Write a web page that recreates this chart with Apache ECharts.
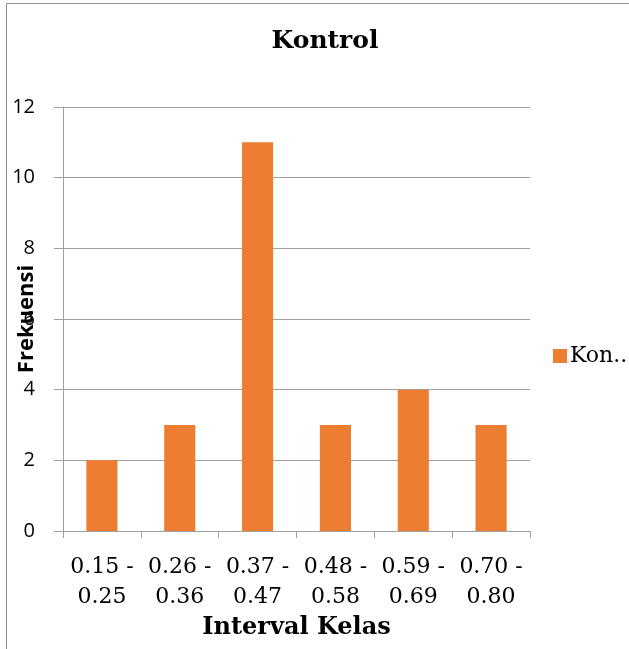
<!DOCTYPE html>
<html>
<head>
<meta charset="utf-8">
<script src="https://cdn.jsdelivr.net/npm/echarts@6/dist/echarts.min.js"></script>
<style>
html,body{margin:0;padding:0;background:#fff;}
#c{width:629px;height:649px;}
</style>
</head>
<body>
<div id="c"></div>
<script>
const categories = ['0.15 -\n0.25', '0.26 -\n0.36', '0.37 -\n0.47', '0.48 -\n0.58', '0.59 -\n0.69', '0.70 -\n0.80'];
const kontrolValues = [2, 3, 11, 3, 4, 3];
const yTicks = { min: 0, max: 12, interval: 2 };

const chart = echarts.init(document.getElementById('c'));
chart.setOption({
  animation: false,
  backgroundColor: '#fff',
  graphic: [{
    type: 'rect',
    shape: { x: 6.5, y: 3.5, width: 700, height: 700 },
    style: { fill: 'none', stroke: '#8c8c8c', lineWidth: 1 },
    silent: true
  }],
  title: {
    text: 'Kontrol',
    left: 320, top: 24, textAlign: 'center',
    textStyle: { fontFamily: 'DejaVu Serif', fontWeight: 'bold', fontSize: 25, color: '#000' }
  },
  legend: {
    left: 548, top: 340,
    icon: 'rect', itemWidth: 14, itemHeight: 14, itemGap: 5,
    formatter: function () { return 'Kon..'; },
    textStyle: { fontFamily: 'DejaVu Serif', fontSize: 22, color: '#000', padding: [0, 0, 0, -2] }
  },
  grid: { left: 63, right: 99, top: 107, bottom: 118, containLabel: false, outerBoundsMode: 'none' },
  xAxis: {
    type: 'category',
    data: categories,
    name: 'Interval Kelas',
    nameLocation: 'middle',
    nameGap: 85,
    nameMoveOverlap: false,
    nameTextStyle: { fontFamily: 'DejaVu Serif', fontWeight: 'bold', fontSize: 24, color: '#000' },
    axisLine: { lineStyle: { color: '#a0a0a0', width: 1 } },
    axisTick: { show: true, length: 7, lineStyle: { color: '#a0a0a0' } },
    axisLabel: { interval: 0, margin: 21, lineHeight: 30, fontFamily: 'DejaVu Serif', fontSize: 22, color: '#000' }
  },
  yAxis: {
    type: 'value',
    min: yTicks.min, max: yTicks.max, interval: yTicks.interval,
    name: 'Frekuensi',
    nameLocation: 'middle',
    nameGap: 25,
    nameMoveOverlap: false,
    nameTextStyle: { fontFamily: 'Open Sans', fontWeight: 'bold', fontSize: 22, color: '#000' },
    axisLine: { show: true, lineStyle: { color: '#a0a0a0', width: 1 } },
    axisTick: { show: true, length: 9, lineStyle: { color: '#a0a0a0' } },
    axisLabel: { margin: 28, fontFamily: 'Open Sans', fontSize: 20, color: '#000' },
    splitLine: { lineStyle: { color: '#a0a0a0', width: 1 } }
  },
  series: [{
    name: 'Kontrol',
    type: 'bar',
    data: kontrolValues,
    barWidth: '40%',
    itemStyle: { color: '#ED7D31' }
  }]
});
</script>
</body>
</html>
